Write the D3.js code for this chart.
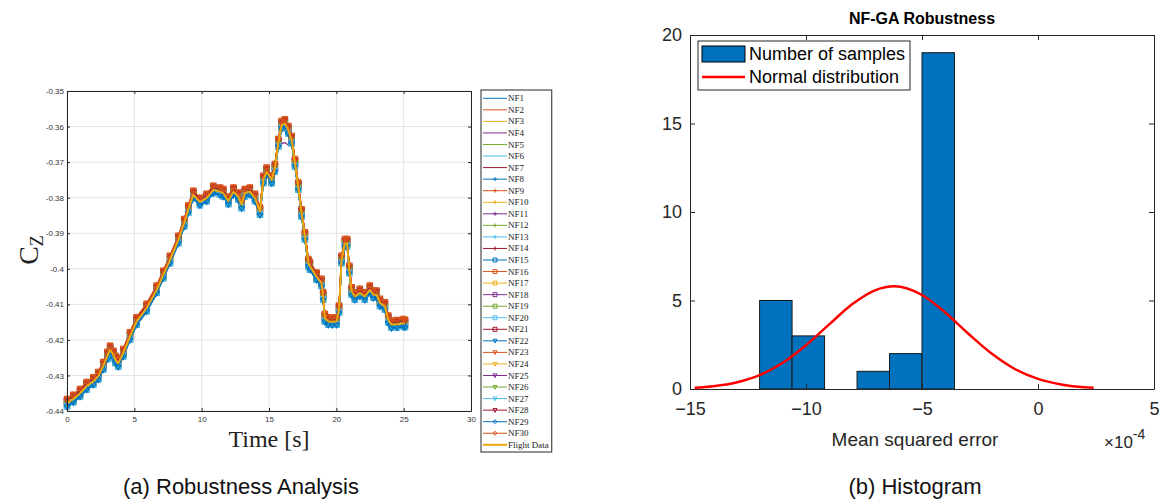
<!DOCTYPE html>
<html>
<head>
<meta charset="utf-8">
<script src="https://cdn.jsdelivr.net/npm/d3@7"></script>
<style>
  body { margin: 0; background: #fff; }
  svg { display: block; }
  .tickL text { font-family: "Liberation Sans", Arial, sans-serif; font-size: 8px; fill: #333; }
  .tickR text { font-family: "Liberation Sans", Arial, sans-serif; font-size: 18px; fill: #262626; }
  .caption { font-family: "Liberation Sans", Arial, sans-serif; font-size: 22px; fill: #111; }
</style>
</head>
<body>
<div class="canvas"></div>
<script>
// ---------- DATA ----------
// (a) flight data, C_Z against time
var flightTime = [0, 0.47, 0.97, 1.46, 1.95, 2.32, 2.69, 3.0, 3.2, 3.44, 3.6, 3.8, 4.18, 4.68, 5.17, 5.92, 6.66, 7.15, 7.65, 8.27,
  8.7, 9.0, 9.38, 9.87, 10.37, 10.86, 11.36, 11.6, 11.98, 12.36, 12.72, 12.97, 13.21, 13.58, 13.96, 14.33, 14.58, 14.83, 15.2, 15.44,
  15.69, 15.94, 16.18, 16.43, 16.68, 16.93, 17.17, 17.42, 17.67, 17.92, 18.04, 18.53, 18.9, 19.02, 19.15, 19.4, 19.7, 20.02, 20.2, 20.39,
  20.64, 20.8, 20.96, 21.14, 21.38, 21.75, 22.12, 22.49, 22.74, 22.99, 23.24, 23.61, 23.85, 24.1, 24.5, 24.97, 25.1];
var flightCz = [-0.4378, -0.4366, -0.435, -0.433, -0.4317, -0.4302, -0.4274, -0.4245, -0.4228, -0.4242, -0.4256, -0.4266, -0.4237, -0.419, -0.4148, -0.411, -0.4059, -0.4017, -0.3975, -0.3919,
  -0.3872, -0.3834, -0.3792, -0.3812, -0.3801, -0.3778, -0.3783, -0.3787, -0.3809, -0.3783, -0.3797, -0.382, -0.3787, -0.3783, -0.3801, -0.3839, -0.375, -0.3727, -0.375, -0.3717,
  -0.3647, -0.3596, -0.3591, -0.361, -0.3638, -0.3703, -0.3769, -0.3844, -0.3909, -0.3984, -0.3993, -0.4022, -0.404, -0.4078, -0.4139, -0.4148, -0.4149, -0.4148, -0.4115, -0.3975,
  -0.3928, -0.3928, -0.4003, -0.4064, -0.4078, -0.4068, -0.4078, -0.4059, -0.4073, -0.4073, -0.4096, -0.4106, -0.4143, -0.4157, -0.4156, -0.4153, -0.4155];
// NF1..NF30 sit in a thin band round the flight data: estimated bias of each one
var nfNames = d3.range(1, 31).map(function(i){ return 'NF' + i; });
var nfOffset = [-0.0011, 0.0011, -0.0001, 0.0005, 0.0002, -0.0008, 0.0007,
                -0.0010, 0.0010, -0.0002, 0.0004, -0.0003, -0.0007, 0.0008,
                -0.0009, 0.0012, 0.0001, 0.0006, -0.0004, -0.0009, 0.0006,
                -0.0010, 0.0011, 0.0000, 0.0003, 0.0002, -0.0006, 0.0007,
                -0.0008, 0.0012];
// NF4 stays lower at the big peak near t = 16 s
var nf4PeakTime = [15.69, 15.94, 16.18, 16.43];
var nf4PeakCz   = [-0.3655, -0.3648, -0.3645, -0.3652];
var xTicksA = [0, 5, 10, 15, 20, 25, 30];
var yTicksA = [-0.35, -0.36, -0.37, -0.38, -0.39, -0.4, -0.41, -0.42, -0.43, -0.44];

// (b) histogram of the mean squared error (x 1e-4)
var binEdges  = [-12.0, -10.6, -9.2, -7.8, -6.4, -5.0, -3.6];
var binCounts = [5, 3, 0, 1, 2, 19];
var normalX = [-14.8, -14, -13, -12, -11, -10, -9, -8, -7, -6.2, -5, -4, -3, -2, -1, 0, 1, 2, 2.4];
var normalY = [0.07, 0.16, 0.37, 0.78, 1.48, 2.47, 3.65, 4.80, 5.59, 5.80, 5.31, 4.32, 3.12, 2.00, 1.13, 0.57, 0.26, 0.10, 0.07];
var xTicksB = [-15, -10, -5, 0, 5];
var yTicksB = [0, 5, 10, 15, 20];

// ---------- SVG ----------
var W = 1168, H = 504;
var svg = d3.select('.canvas').append('svg').attr('width', W).attr('height', H);

var matlab = ['#0072BD', '#D95319', '#EDB120', '#7E2F8E', '#77AC30', '#4DBEEE', '#A2142F'];
var serif = '"Liberation Serif", "Times New Roman", serif';
var sans = '"Liberation Sans", Arial, sans-serif';

// marker shapes (MATLAB: none, +, square, v, diamond)
function markerPath(type, s) {
  if (type === 'plus') return 'M' + (-s) + ',0H' + s + 'M0,' + (-s) + 'V' + s;
  if (type === 'square') return 'M' + (-s) + ',' + (-s) + 'h' + (2*s) + 'v' + (2*s) + 'h' + (-2*s) + 'Z';
  if (type === 'tri') return 'M' + (-s) + ',' + (-s*0.8) + 'L' + s + ',' + (-s*0.8) + 'L0,' + (s*1.1) + 'Z';
  if (type === 'diamond') return 'M0,' + (-s) + 'L' + s + ',0L0,' + s + 'L' + (-s) + ',0Z';
  return null;
}
function markerOf(i) {
  if (i < 7) return 'none';
  if (i < 14) return 'plus';
  if (i < 21) return 'square';
  if (i < 28) return 'tri';
  return 'diamond';
}

// ================= (a) Robustness Analysis =================
var xA = d3.scaleLinear().domain([0, 30]).range([67, 471]);
var yA = d3.scaleLinear().domain([-0.44, -0.35]).range([411, 91]);

var gA = svg.append('g');

// grid
gA.append('g').selectAll('line').data(xTicksA).enter().append('line')
  .attr('x1', d => xA(d)).attr('x2', d => xA(d)).attr('y1', yA.range()[0]).attr('y2', yA.range()[1])
  .attr('stroke', '#e3e3e3').attr('stroke-width', 1);
gA.append('g').selectAll('line').data(yTicksA).enter().append('line')
  .attr('y1', d => yA(d)).attr('y2', d => yA(d)).attr('x1', xA.range()[0]).attr('x2', xA.range()[1])
  .attr('stroke', '#e3e3e3').attr('stroke-width', 1);

var flight = flightTime.map(function(t, i){ return { t: t, v: flightCz[i] }; });
var series = nfNames.map(function(name, k) {
  var pts = flight.map(function(p){ return { t: p.t, v: p.v + nfOffset[k] }; });
  if (k === 3) {
    pts.forEach(function(p){
      var j = nf4PeakTime.indexOf(p.t);
      if (j >= 0) p.v = nf4PeakCz[j];
    });
  }
  return { name: name, pts: pts, color: matlab[k % 7], marker: markerOf(k) };
});

var lineA = d3.line().x(d => xA(d.t)).y(d => yA(d.v));

var plotA = gA.append('g');
series.forEach(function(s) {
  plotA.append('path').datum(s.pts)
    .attr('d', lineA).attr('fill', 'none')
    .attr('stroke', s.color).attr('stroke-width', 1.2).attr('stroke-linejoin', 'round');
  var mp = markerPath(s.marker, 2.6);
  if (mp) {
    plotA.append('g').selectAll('path').data(s.pts).enter().append('path')
      .attr('transform', d => 'translate(' + xA(d.t) + ',' + yA(d.v) + ')')
      .attr('d', mp).attr('fill', 'none').attr('stroke', s.color).attr('stroke-width', 1.1);
  }
});
plotA.append('path').datum(flight)
  .attr('d', lineA).attr('fill', 'none')
  .attr('stroke', '#EDA80C').attr('stroke-width', 2).attr('stroke-linejoin', 'round');

// axes with box
var axB = gA.append('g').attr('class', 'tickL').attr('transform', 'translate(0,' + yA.range()[0] + ')')
  .call(d3.axisBottom(xA).tickValues(xTicksA).tickSize(-3).tickSizeOuter(0).tickPadding(5).tickFormat(d3.format('d')));
var axL = gA.append('g').attr('class', 'tickL').attr('transform', 'translate(' + xA.range()[0] + ',0)')
  .call(d3.axisLeft(yA).tickValues(yTicksA).tickSize(-3).tickSizeOuter(0).tickPadding(3).tickFormat(d => String(d)));
var axT = gA.append('g').attr('transform', 'translate(0,' + yA.range()[1] + ')')
  .call(d3.axisTop(xA).tickValues(xTicksA).tickSize(-3).tickSizeOuter(0).tickFormat(''));
var axR = gA.append('g').attr('transform', 'translate(' + xA.range()[1] + ',0)')
  .call(d3.axisRight(yA).tickValues(yTicksA).tickSize(-3).tickSizeOuter(0).tickFormat(''));
[axB, axL, axT, axR].forEach(function(a){
  a.select('.domain').attr('stroke', '#262626').attr('stroke-width', 1);
  a.selectAll('.tick line').attr('stroke', '#262626');
});

// axis titles
gA.append('text')
  .attr('x', (xA.range()[0] + xA.range()[1]) / 2).attr('y', 447)
  .attr('text-anchor', 'middle').style('font-family', serif).style('font-size', '24px').attr('fill', '#222')
  .text('Time [s]');
var cz = gA.append('text')
  .attr('transform', 'translate(38,250) rotate(-90)')
  .attr('text-anchor', 'middle').style('font-family', serif).style('font-size', '28px').attr('fill', '#222');
cz.append('tspan').text('C');
cz.append('tspan').attr('dy', 5).style('font-size', '18px').text('Z');

// legend
var legA = gA.append('g');
var legNames = nfNames.concat(['Flight Data']);
var legX = 481, legY = 90, legStep = 11.55;
var legBox = legA.append('rect').attr('x', legX).attr('y', legY).attr('height', 362)
  .attr('fill', '#fff').attr('stroke', '#262626').attr('stroke-width', 1);
var maxRight = 0;
legNames.forEach(function(name, k) {
  var yy = legY + 8.3 + k * legStep;
  var col = k < 30 ? series[k].color : '#EDA80C';
  legA.append('line').attr('x1', legX + 2).attr('x2', legX + 26).attr('y1', yy).attr('y2', yy)
    .attr('stroke', col).attr('stroke-width', k < 30 ? 1 : 2);
  if (k < 30) {
    var mp = markerPath(series[k].marker, 2);
    if (mp) legA.append('path').attr('transform', 'translate(' + (legX + 14) + ',' + yy + ')')
      .attr('d', mp).attr('fill', 'none').attr('stroke', col).attr('stroke-width', 1);
  }
  var t = legA.append('text').attr('x', legX + 27).attr('y', yy + 3)
    .style('font-family', serif).style('font-size', '9px').attr('fill', '#222')
    .text(name);
  maxRight = Math.max(maxRight, legX + 27 + t.node().getComputedTextLength());
});
legBox.attr('width', maxRight + 3 - legX);

// ================= (b) Histogram =================
var xB = d3.scaleLinear().domain([-15, 5]).range([690, 1154]);
var yB = d3.scaleLinear().domain([0, 20]).range([389, 35]);
var gB = svg.append('g');

var bins = binCounts.map(function(c, i){ return { x0: binEdges[i], x1: binEdges[i + 1], n: c }; })
  .filter(function(b){ return b.n > 0; });
gB.append('g').selectAll('rect').data(bins).enter().append('rect')
  .attr('x', d => xB(d.x0)).attr('width', d => xB(d.x1) - xB(d.x0))
  .attr('y', d => yB(d.n)).attr('height', d => yB(0) - yB(d.n))
  .attr('fill', '#0072BD').attr('stroke', '#1a1a1a').attr('stroke-width', 1);

var normal = normalX.map(function(x, i){ return { x: x, y: normalY[i] }; });
gB.append('path').datum(normal)
  .attr('d', d3.line().x(d => xB(d.x)).y(d => yB(d.y)).curve(d3.curveMonotoneX))
  .attr('fill', 'none').attr('stroke', '#FF0000').attr('stroke-width', 2.5);

var bB = gB.append('g').attr('class', 'tickR').attr('transform', 'translate(0,' + yB.range()[0] + ')')
  .call(d3.axisBottom(xB).tickValues(xTicksB).tickSize(-5).tickSizeOuter(0).tickPadding(13).tickFormat(d3.format('d')));
var lB = gB.append('g').attr('class', 'tickR').attr('transform', 'translate(' + xB.range()[0] + ',0)')
  .call(d3.axisLeft(yB).tickValues(yTicksB).tickSize(-5).tickSizeOuter(0).tickPadding(8).tickFormat(d3.format('d')));
var tB = gB.append('g').attr('transform', 'translate(0,' + yB.range()[1] + ')')
  .call(d3.axisTop(xB).tickValues(xTicksB).tickSize(-5).tickSizeOuter(0).tickFormat(''));
var rB = gB.append('g').attr('transform', 'translate(' + xB.range()[1] + ',0)')
  .call(d3.axisRight(yB).tickValues(yTicksB).tickSize(-5).tickSizeOuter(0).tickFormat(''));
[bB, lB, tB, rB].forEach(function(a){
  a.select('.domain').attr('stroke', '#262626').attr('stroke-width', 1);
  a.selectAll('.tick line').attr('stroke', '#262626');
});

gB.append('text').attr('x', 922).attr('y', 24).attr('text-anchor', 'middle')
  .style('font-family', sans).style('font-size', '16px').style('font-weight', 'bold').attr('fill', '#000')
  .text('NF-GA Robustness');
gB.append('text').attr('x', 915).attr('y', 446).attr('text-anchor', 'middle')
  .style('font-family', sans).style('font-size', '19px').attr('fill', '#262626')
  .text('Mean squared error');
var exp = gB.append('text').attr('x', 1104).attr('y', 448)
  .style('font-family', sans).style('font-size', '17px').attr('fill', '#262626');
exp.append('tspan').text('\u00d710');
exp.append('tspan').attr('dy', -9).style('font-size', '14px').text('-4');

// legend (b)
var legB = gB.append('g');
legB.append('rect').attr('x', 698).attr('y', 41).attr('width', 212).attr('height', 49)
  .attr('fill', '#fff').attr('stroke', '#262626').attr('stroke-width', 1);
legB.append('rect').attr('x', 702).attr('y', 46).attr('width', 43).attr('height', 16)
  .attr('fill', '#0072BD').attr('stroke', '#000').attr('stroke-width', 1);
legB.append('line').attr('x1', 702).attr('x2', 745).attr('y1', 77).attr('y2', 77)
  .attr('stroke', '#FF0000').attr('stroke-width', 2.5);
legB.append('text').attr('x', 749).attr('y', 60)
  .style('font-family', sans).style('font-size', '18px').attr('fill', '#000').text('Number of samples');
legB.append('text').attr('x', 749).attr('y', 83)
  .style('font-family', sans).style('font-size', '18px').attr('fill', '#000').text('Normal distribution');

// ================= captions =================
svg.append('text').attr('class', 'caption').attr('x', 241).attr('y', 494).attr('text-anchor', 'middle')
  .text('(a) Robustness Analysis');
svg.append('text').attr('class', 'caption').attr('x', 915).attr('y', 494).attr('text-anchor', 'middle')
  .text('(b) Histogram');
</script>
</body>
</html>
